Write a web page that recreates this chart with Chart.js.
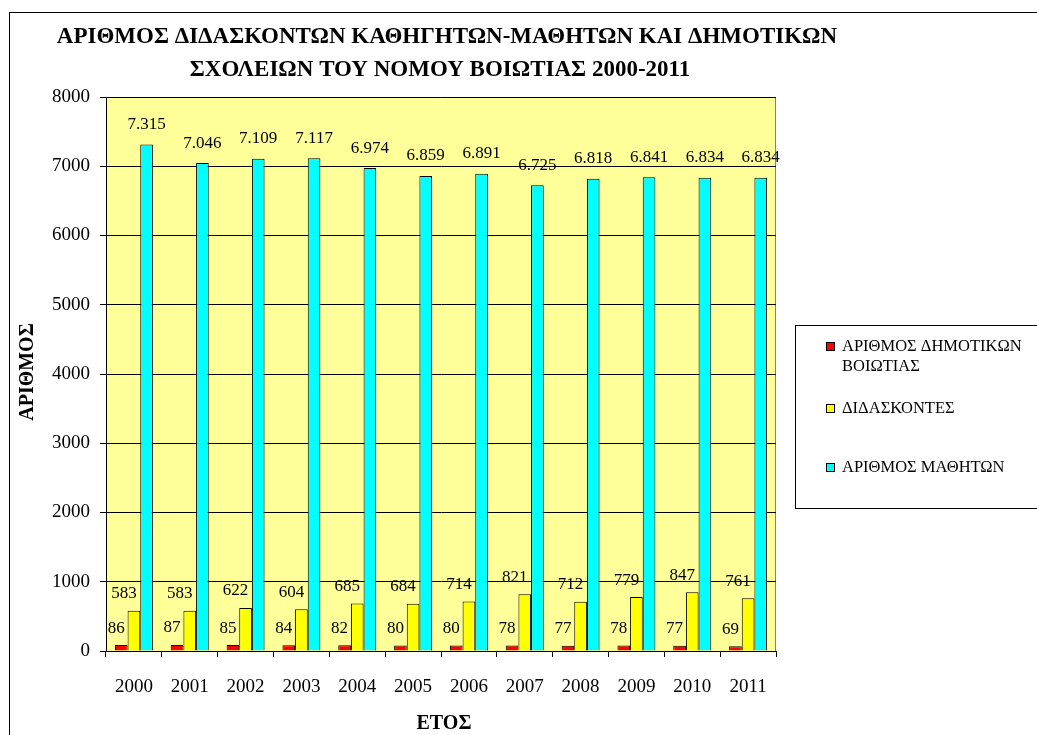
<!DOCTYPE html>
<html>
<head>
<meta charset="utf-8">
<script src="https://cdn.jsdelivr.net/npm/chart.js@4"></script>
<style>
html,body{margin:0;padding:0;background:#fff;}
#wrap{width:1037px;height:735px;position:relative;}
</style>
</head>
<body>
<div id="wrap"><canvas id="c" width="1037" height="735"></canvas></div>
<script>
const years = ['2000','2001','2002','2003','2004','2005','2006','2007','2008','2009','2010','2011'];
const schools = [86,87,85,84,82,80,80,78,77,78,77,69];
const teachers = [583,583,622,604,685,684,714,821,712,779,847,761];
const students = [7315,7046,7109,7117,6974,6859,6891,6725,6818,6841,6834,6834];
const seriesNames = [['ΑΡΙΘΜΟΣ ΔΗΜΟΤΙΚΩΝ','ΒΟΙΩΤΙΑΣ'],['ΔΙΔΑΣΚΟΝΤΕΣ'],['ΑΡΙΘΜΟΣ ΜΑΘΗΤΩΝ']];
const titleLines = ['ΑΡΙΘΜΟΣ ΔΙΔΑΣΚΟΝΤΩΝ ΚΑΘΗΓΗΤΩΝ-ΜΑΘΗΤΩΝ ΚΑΙ ΔΗΜΟΤΙΚΩΝ','ΣΧΟΛΕΙΩΝ ΤΟΥ ΝΟΜΟΥ ΒΟΙΩΤΙΑΣ 2000-2011'];
const xTitle = 'ΕΤΟΣ';
const yTitle = 'ΑΡΙΘΜΟΣ';
const yTicks = [0,1000,2000,3000,4000,5000,6000,7000,8000];

const SERIF = '"Liberation Serif","Times New Roman",serif';
const colors = ['#FF0000','#FFFF00','#00FFFF'];
const labelShift = [-5,-10,0];
const labelLift = [17,17,20];

function fmt(v){
  return String(v).replace(/\B(?=(\d{3})+(?!\d))/g,'.');
}

const decor = {
  id:'decor',
  beforeDraw(chart){
    const ctx=chart.ctx, a=chart.chartArea;
    ctx.save();
    ctx.fillStyle='#fff';
    ctx.fillRect(0,0,chart.width,chart.height);
    ctx.strokeStyle='#000';
    ctx.lineWidth=1;
    ctx.strokeRect(9.5,12.5,1200,900);
    ctx.fillStyle='#FFFF99';
    ctx.fillRect(a.left,a.top,a.right-a.left,a.bottom-a.top);
    ctx.strokeStyle='#808080';
    ctx.beginPath();
    ctx.moveTo(a.left,a.top+0.5);ctx.lineTo(a.right-0.5,a.top+0.5);ctx.lineTo(a.right-0.5,a.bottom);
    ctx.stroke();
    ctx.restore();
  },
  afterDraw(chart){
    const ctx=chart.ctx, a=chart.chartArea;
    ctx.save();
    // title
    ctx.fillStyle='#000';
    ctx.textAlign='center';
    ctx.textBaseline='middle';
    ctx.font='bold 23px '+SERIF;
    ctx.fillText(titleLines[0],447,37);
    ctx.fillText(titleLines[1],440,70);
    // axis titles
    ctx.font='bold 20px '+SERIF;
    ctx.fillText(xTitle,444,724);
    ctx.save();
    ctx.translate(28,372);
    ctx.rotate(-Math.PI/2);
    ctx.fillText(yTitle,0,0);
    ctx.restore();
    // value labels
    ctx.font='17px '+SERIF;
    ctx.textBaseline='middle';
    chart.data.datasets.forEach((ds,di)=>{
      const meta=chart.getDatasetMeta(di);
      meta.data.forEach((bar,i)=>{
        ctx.fillText(fmt(ds.data[i]),bar.x+labelShift[di],bar.y-labelLift[di]);
      });
    });
    // legend
    const lx=795.5, ly=325.5, lw=260, lh=183;
    ctx.strokeStyle='#000';
    ctx.lineWidth=1;
    ctx.strokeRect(lx,ly,lw,lh);
    const itemY=[347,409,468];
    ctx.font='16.5px '+SERIF;
    ctx.textAlign='left';
    chart.data.datasets.forEach((ds,di)=>{
      const y=itemY[di];
      ctx.fillStyle=ds.backgroundColor;
      ctx.fillRect(826,y-5,9,9);
      ctx.strokeStyle='#000';
      ctx.strokeRect(826.5,y-4.5,8,8);
      ctx.fillStyle='#000';
      seriesNames[di].forEach((line,li)=>{
        ctx.fillText(line,842,y+li*20);
      });
    });
    ctx.restore();
  }
};

new Chart(document.getElementById('c'),{
  type:'bar',
  data:{
    labels:years,
    datasets:[
      {label:seriesNames[0].join(' '),data:schools,backgroundColor:colors[0],borderColor:'#000',borderWidth:1},
      {label:seriesNames[1].join(' '),data:teachers,backgroundColor:colors[1],borderColor:'#000',borderWidth:1},
      {label:seriesNames[2].join(' '),data:students,backgroundColor:colors[2],borderColor:'#000',borderWidth:1}
    ]
  },
  options:{
    responsive:false,
    animation:false,
    devicePixelRatio:1,
    layout:{padding:{left:0,top:97,right:261,bottom:0}},
    datasets:{bar:{categoryPercentage:0.68,barPercentage:1}},
    plugins:{legend:{display:false},tooltip:{enabled:false},title:{display:false}},
    scales:{
      x:{
        grid:{display:true,drawOnChartArea:false,drawTicks:true,tickLength:6,color:'#000',offset:true},
        border:{display:true,color:'#000'},
        ticks:{color:'#000',font:{family:SERIF,size:19},padding:19,maxRotation:0},
        afterFit(s){s.height=84;}
      },
      y:{
        min:0,max:8000,
        afterBuildTicks(s){s.ticks=yTicks.map(v=>({value:v}));},
        grid:{color:'#000',tickLength:6,drawTicks:true},
        border:{display:true,color:'#000'},
        ticks:{color:'#000',font:{family:SERIF,size:19},padding:10,callback:v=>String(v)},
        afterFit(s){s.width=106;}
      }
    }
  },
  plugins:[decor]
});
</script>
</body>
</html>
